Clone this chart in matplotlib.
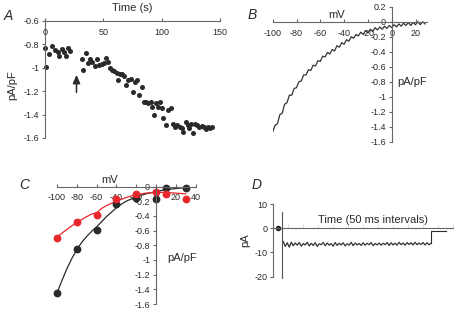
import numpy as np
import matplotlib
matplotlib.use('Agg')
import matplotlib.pyplot as plt
from matplotlib.ticker import FuncFormatter

plt.rcParams['font.family'] = ['Liberation Sans', 'DejaVu Sans']
plt.rcParams['axes.unicode_minus'] = False

# ---- panel A: current density over time ----
time_a = [0, 0.9, 3.1, 5.7, 8.6, 11.4, 12.0, 14.3, 16.6, 17.7, 19.4, 21.4,
          31.4, 32.9, 35.1, 37.1, 38.6, 40.6, 42.6, 44.3, 46.3, 48.6, 50.6, 52.3,
          53.7, 55.7, 57.7, 59.4, 61.4, 62.9, 64.3, 66.0, 67.7, 69.4, 71.4, 73.7,
          75.7, 77.1, 78.9, 80.6, 82.9, 84.9, 86.6, 88.6, 90.6, 91.7, 93.4, 94.9,
          96.6, 98.6, 100.0, 101.4, 103.4, 105.7, 107.7, 109.4, 111.4, 113.4,
          115.7, 117.4, 118.6, 120.6, 122.3, 123.7, 125.1, 127.1, 128.9, 130.6,
          132.3, 134.3, 136.3, 138.0, 139.7, 141.4, 143.1]
dens_a = [-0.83, -0.99, -0.885, -0.81, -0.848, -0.862, -0.90, -0.84, -0.862, -0.896, -0.828, -0.854,
          -0.928, -1.019, -0.876, -0.962, -0.928, -0.948, -0.985, -0.928, -0.979, -0.967, -0.956, -0.913,
          -0.948, -1.005, -1.019, -1.027, -1.042, -1.104, -1.053, -1.053, -1.067, -1.147, -1.104, -1.096,
          -1.204, -1.118, -1.104, -1.232, -1.167, -1.289, -1.289, -1.304, -1.289, -1.332, -1.403, -1.304,
          -1.338, -1.289, -1.346, -1.432, -1.489, -1.361, -1.346, -1.48, -1.503, -1.489,
          -1.503, -1.517, -1.552, -1.46, -1.489, -1.517, -1.48, -1.554, -1.48, -1.489,
          -1.503, -1.497, -1.509, -1.526, -1.503, -1.517, -1.503]
arrow_t = 27

# ---- panel B: ramp I-V trace (2 mV samples from -100 mV) ----
ramp_b = [-1.47, -1.38, -1.36, -1.24, -1.22, -1.10, -1.08, -0.98, -0.98, -0.89,
          -0.88, -0.80, -0.79, -0.71, -0.71, -0.64, -0.65, -0.58, -0.59, -0.52,
          -0.53, -0.46, -0.47, -0.41, -0.43, -0.37, -0.39, -0.32, -0.34, -0.28,
          -0.30, -0.24, -0.26, -0.20, -0.22, -0.17, -0.19, -0.14, -0.17, -0.12,
          -0.15, -0.10, -0.13, -0.08, -0.11, -0.07, -0.10, -0.06, -0.09, -0.05,
          -0.08, -0.04, -0.07, -0.03, -0.06, -0.02, -0.05, -0.01, -0.05, -0.01,
          -0.04, 0.00, -0.04, 0.00, -0.03]

# ---- panel C: step I-V, two conditions ----
mv_c = [-100, -80, -60, -40, -20, 0, 10, 30]
black_c = [-1.455, -0.856, -0.593, -0.243, -0.16, -0.17, -0.025, -0.025]
red_c = [-0.697, -0.488, -0.388, -0.17, -0.10, -0.07, -0.10, -0.17]
mv_fit = [-100, -95, -90, -85, -80, -75, -70, -65, -60, -55, -50, -45, -40, -35,
          -30, -25, -20, -15, -10, -5, 0, 5, 10, 15, 20, 25, 30]
black_fit = [-1.45, -1.28, -1.12, -0.98, -0.86, -0.76, -0.68, -0.61, -0.55, -0.48,
             -0.41, -0.35, -0.29, -0.24, -0.2, -0.17, -0.145, -0.12, -0.1, -0.085,
             -0.07, -0.055, -0.045, -0.035, -0.028, -0.02, -0.015]
red_fit = [-0.69, -0.635, -0.585, -0.535, -0.49, -0.45, -0.41, -0.375, -0.36, -0.3,
           -0.26, -0.23, -0.2, -0.175, -0.15, -0.13, -0.115, -0.1, -0.09, -0.085,
           -0.08, -0.08, -0.08, -0.085, -0.09, -0.095, -0.1]

# ---- panel D: current trace (pA) ----
pulse_d = [-5.5, -7.5, -6.0, -7.8, -5.8, -7.2, -6.1, -7.0, -5.9, -7.4, -6.3, -6.9,
           -5.8, -7.3, -6.2, -7.1, -6.0, -7.5, -6.4, -6.8, -5.9, -7.2, -6.1, -7.0,
           -6.3, -7.4, -5.9, -7.1, -6.2, -6.9, -6.0, -7.3, -6.4, -7.0, -5.8, -7.2,
           -6.1, -6.9, -6.3, -7.1, -6.0, -7.0, -6.2, -6.8, -5.9, -7.2, -6.3, -6.9,
           -6.1, -7.0, -6.2, -6.8, -5.9, -7.1, -6.0, -6.9, -6.2, -7.0, -5.8, -6.8,
           -6.1, -7.0, -5.9, -6.7, -6.0, -6.9, -5.8, -6.8, -6.1, -6.7, -5.9, -6.9,
           -6.0, -6.8, -6.2]
spike_top, spike_bottom = 6.5, -20.6
tail_d = -1.2

ink = '#2a2a2a'
axc = '#666666'
tsize = 6.5
lsize = 8
fmt = FuncFormatter(lambda v, p: '%g' % round(v, 2))


def style(ax, xpos, ypos):
    for s in ['top', 'right']:
        ax.spines[s].set_visible(False)
    ax.spines['bottom'].set_position(('data', xpos))
    ax.spines['left'].set_position(('data', ypos))
    for s in ['bottom', 'left']:
        ax.spines[s].set_color(axc)
        ax.spines[s].set_linewidth(0.8)
    ax.tick_params(axis='x', direction='in', length=2.5, width=0.8, color=axc,
                   labelsize=tsize, labelcolor=ink, pad=5)
    ax.tick_params(axis='y', direction='out', length=2.5, width=0.8, color=axc,
                   labelsize=tsize, labelcolor=ink, pad=1.5)
    ax.yaxis.set_major_formatter(fmt)
    ax.xaxis.set_major_formatter(fmt)
    ax.patch.set_alpha(0)


fig = plt.figure(figsize=(4.54, 3.09), dpi=100)
W, H = 454.0, 309.0


def box(x0, x1, ytop, ybot):
    return [x0 / W, 1 - ybot / H, (x1 - x0) / W, (ybot - ytop) / H]


# A
ax = fig.add_axes(box(45, 220, 21, 138))
ax.scatter(time_a, dens_a, s=13, color=ink, linewidths=0, clip_on=False)
ax.set_xlim(0, 150)
ax.set_ylim(-1.6, -0.6)
style(ax, -0.6, 0)
ax.spines['left'].set_bounds(-1.6, -0.6)
ax.set_xticks([0, 50, 100, 150])
ax.set_yticks(np.arange(-1.6, -0.59, 0.2))
ax.annotate('', xy=(arrow_t, -1.06), xytext=(arrow_t, -1.21),
            arrowprops=dict(arrowstyle='-|>,head_length=0.5,head_width=0.22',
                            color=ink, lw=1.1, shrinkA=0, shrinkB=0, mutation_scale=10))
fig.text(132 / W, 1 - 8 / H, 'Time (s)', fontsize=lsize, color=ink, ha='center', va='center')
fig.text(12 / W, 1 - 85 / H, 'pA/pF', fontsize=lsize, color=ink, ha='center', va='center', rotation=90)
fig.text(8 / W, 1 - 16 / H, 'A', fontsize=10, style='italic', color=ink, ha='center', va='center')

# B
ax = fig.add_axes(box(272.7, 427.4, 6.7, 141.7))
mv_b = -100 + 2 * np.arange(len(ramp_b))
ax.plot(mv_b, ramp_b, color='#333333', lw=0.9)
ax.set_xlim(-100, 30)
ax.set_ylim(-1.6, 0.2)
style(ax, 0, 0)
ax.set_xticks([-100, -80, -60, -40, -20, 0, 20])
ax.set_yticks(np.arange(-1.6, 0.21, 0.2))
fig.text(337 / W, 1 - 15 / H, 'mV', fontsize=lsize, color=ink, ha='center', va='center')
fig.text(397 / W, 1 - 82 / H, 'pA/pF', fontsize=lsize, color=ink, ha='left', va='center')
fig.text(252 / W, 1 - 15 / H, 'B', fontsize=10, style='italic', color=ink, ha='center', va='center')

# C
ax = fig.add_axes(box(57, 195.6, 186.5, 304))
ax.plot(mv_fit, black_fit, color=ink, lw=0.9, clip_on=False)
ax.plot(mv_fit, red_fit, color='#e8262c', lw=0.9, clip_on=False)
ax.plot(mv_c, black_c, 'o', color=ink, ms=4.6, clip_on=False)
ax.plot(mv_c, red_c, 'o', color='#e8262c', ms=4.6, clip_on=False)
ax.set_xlim(-100, 40)
ax.set_ylim(-1.6, 0)
style(ax, 0, 0)
ax.set_xticks([-100, -80, -60, -40, -20, 0, 20, 40])
ax.set_yticks(np.arange(-1.6, 0.01, 0.2))
fig.text(110 / W, 1 - 180 / H, 'mV', fontsize=lsize, color=ink, ha='center', va='center')
fig.text(167 / W, 1 - 258 / H, 'pA/pF', fontsize=lsize, color=ink, ha='left', va='center')
fig.text(24 / W, 1 - 185 / H, 'C', fontsize=10, style='italic', color=ink, ha='center', va='center')

# D
ax = fig.add_axes(box(273.3, 454, 204, 276.7))
t_pulse = 10 + 2 * np.arange(len(pulse_d))
t_end = t_pulse[-1]
ax.plot([4, 9], [0, 0], color=ink, lw=0.9)
ax.plot([5], [0], 'o', color=ink, ms=3)
ax.plot([9, 9], [spike_top, spike_bottom], color='#555555', lw=0.8, clip_on=False)
ax.plot(t_pulse, pulse_d, color='#333333', lw=0.9)
ax.plot([t_end, t_end, t_end + 15], [pulse_d[-1], tail_d, tail_d], color=ink, lw=0.8)
ax.set_xlim(0, 181)
ax.set_ylim(-20, 10)
style(ax, 0, 0)
ax.set_xticks(np.arange(15, 181, 15))
ax.tick_params(axis='x', labelbottom=False, color='#dddddd', length=3)
ax.set_yticks([-20, -10, 0, 10])
fig.text(318 / W, 1 - 220 / H, 'Time (50 ms intervals)', fontsize=lsize, color=ink, ha='left', va='center')
fig.text(245 / W, 1 - 240 / H, 'pA', fontsize=lsize, color=ink, ha='center', va='center', rotation=90)
fig.text(257 / W, 1 - 185 / H, 'D', fontsize=10, style='italic', color=ink, ha='center', va='center')

fig.savefig('out.png', dpi=100)
